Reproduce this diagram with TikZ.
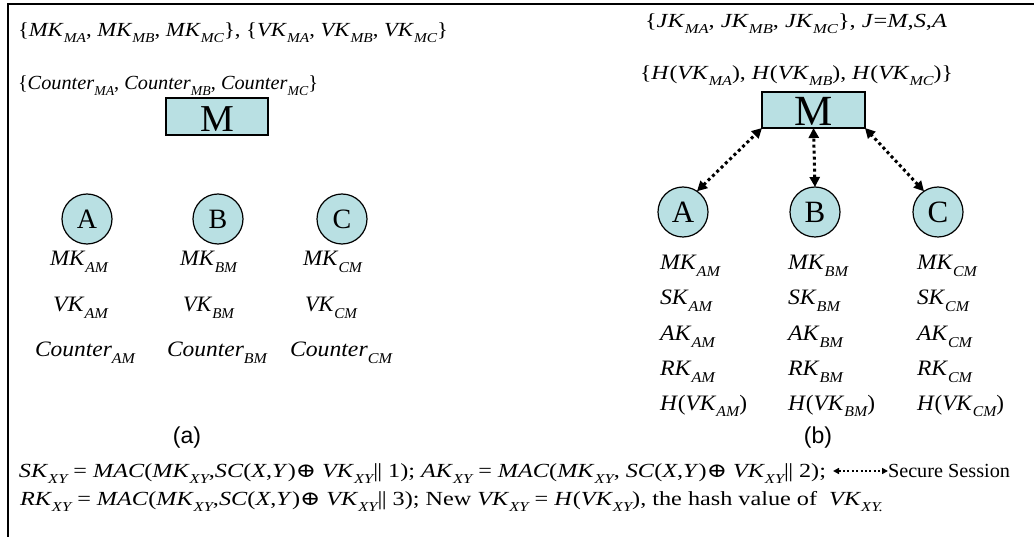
\documentclass[tikz,border=0pt]{standalone}
\usepackage{fontspec}
\usepackage{graphicx}
\setmainfont{Liberation Serif}
\newfontfamily\sansf{Liberation Sans}
\newfontfamily\symf{DejaVu Serif}
\usetikzlibrary{arrows.meta}
\definecolor{nodefill}{RGB}{185,224,227}
\makeatletter
\newcommand\sbx[1]{\raisebox{-0.3\dimexpr\f@size pt\relax}{\fontsize{\the\dimexpr 0.68\dimexpr\f@size pt\relax\relax}{1pt}\selectfont\itshape #1}}
\makeatother
\newcommand\vv[2]{\textit{#1}\sbx{#2}}
\newcommand\xo{{\symf\char"2295}}
\newcommand\bars{|\kern-0.6pt|}
\newcommand\fw[2]{\resizebox{#1pt}{\height}{#2}}
\begin{document}
\begin{tikzpicture}[x=1pt,y=-1pt,
  every node/.style={inner sep=0pt, outer sep=0pt},
  txt/.style={anchor=base west, font=\fontsize{20}{22}\selectfont},
  lbl/.style={anchor=base west, font=\fontsize{22}{24}\selectfont},
  circnode/.style={circle, draw, line width=1.2pt, fill=nodefill, minimum size=50pt, font=\fontsize{28}{30}\selectfont},
  mbox/.style={rectangle, draw, line width=1.2pt, fill=nodefill, minimum width=102pt, minimum height=37pt},
  partlabel/.style={font=\sansf\fontsize{23}{26}\selectfont},
  sess/.style={line width=3pt, dash pattern=on 3pt off 3pt, {Triangle[length=10pt,width=10pt]}-{Triangle[length=10pt,width=10pt]}},
  legarrow/.style={line width=2pt, dash pattern=on 2pt off 2.4pt, {Triangle[length=6pt,width=6pt]}-{Triangle[length=6pt,width=6pt]}}
]
\useasboundingbox (0,0) rectangle (1034,537);
\fill[white] (0,0) rectangle (1034,537);
\draw[line width=2pt] (8,537) -- (8,4.5) -- (1034,4.5);

% ---------- (a) ----------
\node[txt] (ta1) at (18,37) {\fw{430}{\{\vv{MK}{MA}, \vv{MK}{MB}, \vv{MK}{MC}\}, \{\vv{VK}{MA}, \vv{VK}{MB}, \vv{VK}{MC}\}}};
\node[txt] (ta2) at (18,90) {\fw{300}{\{\vv{Counter}{MA}, \vv{Counter}{MB}, \vv{Counter}{MC}\}}};
\node[mbox, font=\fontsize{38}{40}\selectfont, text height=30pt, text depth=0pt] (M1) at (217,116.5) {M};
\node[circnode] (A1) at (87,219) {A};
\node[circnode] (B1) at (218,219) {B};
\node[circnode] (C1) at (342,219) {C};
\node[lbl] (a1mk) at (50,266) {\fw{58}{\vv{MK}{AM}}};
\node[lbl] (a1vk) at (53,312) {\fw{55}{\vv{VK}{AM}}};
\node[lbl] (a1ct) at (35,357) {\fw{100}{\vv{Counter}{AM}}};
\node[lbl] (b1mk) at (180,266) {\fw{57}{\vv{MK}{BM}}};
\node[lbl] (b1vk) at (183,312) {\fw{51}{\vv{VK}{BM}}};
\node[lbl] (b1ct) at (167,357) {\fw{100}{\vv{Counter}{BM}}};
\node[lbl] (c1mk) at (303,266) {\fw{59}{\vv{MK}{CM}}};
\node[lbl] (c1vk) at (305,312) {\fw{52}{\vv{VK}{CM}}};
\node[lbl] (c1ct) at (290,357) {\fw{102}{\vv{Counter}{CM}}};
\node[partlabel] (capa) at (187,438) {(a)};

% ---------- (b) ----------
\node[txt] (tb1) at (645,28) {\fw{302}{\{\vv{JK}{MA}, \vv{JK}{MB}, \vv{JK}{MC}\}, \textit{J}=\textit{M},\textit{S},\textit{A}}};
\node[txt] (tb2) at (640,80) {\fw{313}{\{\textit{H}(\vv{VK}{MA}), \textit{H}(\vv{VK}{MB}), \textit{H}(\vv{VK}{MC})\}}};
\node[mbox, minimum height=36pt, minimum width=103pt, font=\fontsize{43}{45}\selectfont, text height=32pt, text depth=0pt] (M2) at (813.5,110) {M};
\node[circnode, font=\fontsize{31}{33}\selectfont] (A2) at (683,212) {A};
\node[circnode, font=\fontsize{31}{33}\selectfont] (B2) at (815,212) {B};
\node[circnode, font=\fontsize{31}{33}\selectfont] (C2) at (938,212) {C};
\draw[sess] (A2.56) -- (M2.south west);
\draw[sess] (B2.north) -- (M2.south);
\draw[sess] (C2.124) -- (M2.south east);
\foreach \col/\x in {A/660, B/788, C/917} {
  \node[lbl] (mk\col) at (\x,270) {\fw{60}{\vv{MK}{\col M}}};
  \node[lbl] (sk\col) at (\x,305) {\fw{52}{\vv{SK}{\col M}}};
  \node[lbl] (ak\col) at (\x,341) {\fw{55}{\vv{AK}{\col M}}};
  \node[lbl] (rk\col) at (\x,376) {\fw{55}{\vv{RK}{\col M}}};
  \node[lbl] (hv\col) at (\x,410) {\fw{87}{\textit{H}(\vv{VK}{\col M})}};
}
\node[partlabel] (capb) at (818,438) {(b)};

% ---------- formulas ----------
\node[txt] (f1) at (19,477) {\fw{807}{\vv{SK}{XY} = \textit{MAC}(\vv{MK}{XY},\textit{SC}(\textit{X},\textit{Y})\xo\ \vv{VK}{XY}\bars\ 1); \vv{AK}{XY} = \textit{MAC}(\vv{MK}{XY}, \textit{SC}(\textit{X},\textit{Y})\xo\ \vv{VK}{XY}\bars\ 2);}};
\node[txt] (ss) at (888,477) {\fw{122}{Secure Session}};
\draw[legarrow] ([shift={(7,-6)}]f1.base east) -- ([shift={(0,-6)}]ss.base west);
\node[txt] (f2) at (20,505) {\fw{863}{\vv{RK}{XY} = \textit{MAC}(\vv{MK}{XY},\textit{SC}(\textit{X},\textit{Y})\xo\ \vv{VK}{XY}\bars\ 3); New \vv{VK}{XY} = \textit{H}(\vv{VK}{XY}), the hash value of \ \vv{VK}{XY.}}};
\end{tikzpicture}
\end{document}
